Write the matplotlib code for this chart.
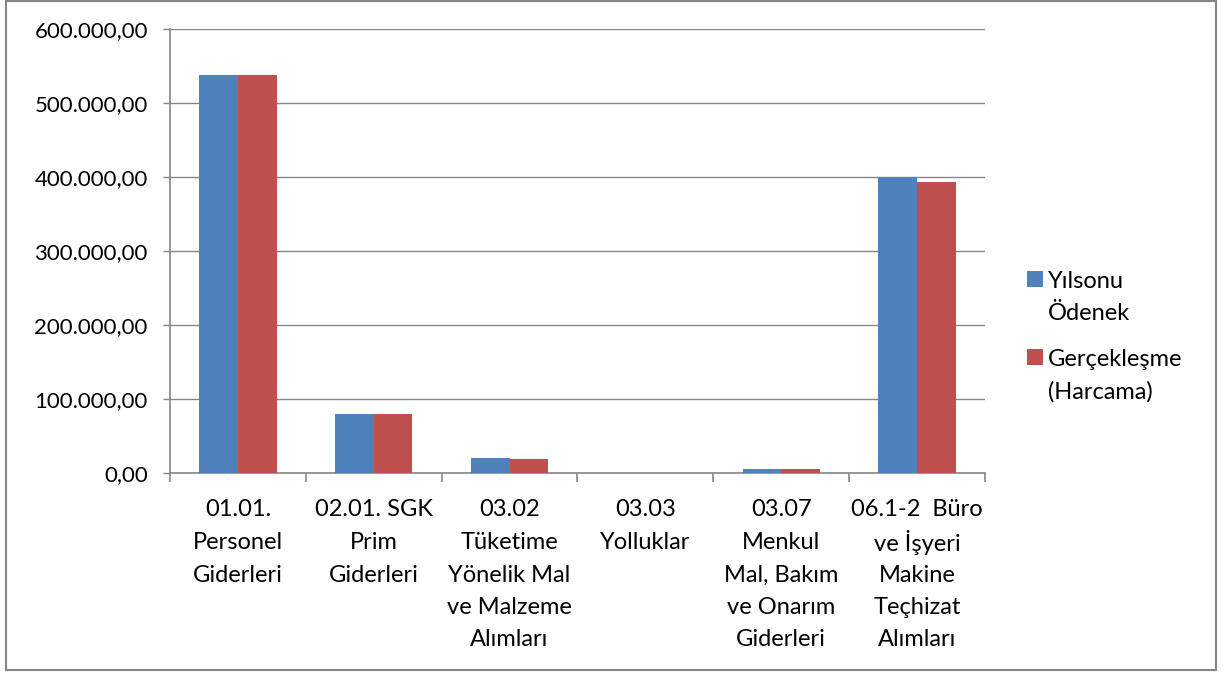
import numpy as np
import matplotlib.pyplot as plt
from matplotlib.patches import Rectangle

categories = ["01.01.\nPersonel\nGiderleri", "02.01. SGK\nPrim\nGiderleri",
              "03.02\nTüketime\nYönelik Mal\nve Malzeme\nAlımları", "03.03\nYolluklar",
              "03.07\nMenkul\nMal, Bakım\nve Onarım\nGiderleri",
              "06.1-2  Büro\nve İşyeri\nMakine\nTeçhizat\nAlımları"]
odenek = [538500, 80000, 20500, 0, 5500, 400000]
harcama = [538500, 80000, 19000, 0, 5000, 393500]
series = ["Yılsonu\nÖdenek", "Gerçekleşme\n(Harcama)"]
colors = ['#4f81bd', '#c0504d']
yticks = [0, 100000, 200000, 300000, 400000, 500000, 600000]
ytick_labels = ["0,00", "100.000,00", "200.000,00", "300.000,00", "400.000,00", "500.000,00", "600.000,00"]

plt.rcParams['font.family'] = ['Lato', 'DejaVu Sans']
fs = 17          # words
fs_num = 16      # y axis numbers
W, H = 1224, 675
fig = plt.figure(figsize=(W / 100, H / 100), dpi=100)
ax = fig.add_axes([170 / W, 1 - 473 / H, 815 / W, 444 / H])

x = np.arange(len(categories))
w = 0.285
for k, vals in enumerate([odenek, harcama]):
    ax.bar(x + (k - 0.5) * w, vals, w, color=colors[k], zorder=3)

ax.set_xlim(-0.5, len(categories) - 0.5)
ax.set_ylim(0, 600000)
ax.set_yticks(yticks)
ax.set_yticklabels(ytick_labels, fontsize=fs_num)
ax.grid(axis='y', color='#868686', linewidth=1, zorder=0)
ax.set_xticks([])
ax.set_xticks(np.arange(-0.5, len(categories)), minor=True)
ax.tick_params(axis='x', which='minor', length=6.5, color='#868686', width=1.2)
ax.tick_params(axis='y', length=5, color='#868686', width=1, pad=11)
for s in ['top', 'right']:
    ax.spines[s].set_visible(False)
for s in ['left', 'bottom']:
    ax.spines[s].set_color('#868686')
    ax.spines[s].set_linewidth(1.2)

# category labels, one text per line so the spacing stays even
line_pt = 32.5 * 0.72
for i, lab in enumerate(categories):
    for j, line in enumerate(lab.split('\n')):
        ax.annotate(line, xy=(i, 0), xycoords=('data', 'axes fraction'),
                    xytext=(0, -35 * 0.72 - j * line_pt), textcoords='offset points',
                    ha='center', va='center_baseline', fontsize=fs)

# legend on the right, square next to the first line of each entry
for k, (lab, col) in enumerate(zip(series, colors)):
    y0 = 279 + k * 78
    fig.patches.append(Rectangle((1027 / W, 1 - (y0 + 8) / H), 16 / W, 16 / H,
                                 transform=fig.transFigure, facecolor=col, edgecolor='none'))
    for j, line in enumerate(lab.split('\n')):
        fig.text(1048 / W, 1 - (y0 + j * 32.5) / H, line, ha='left', va='center_baseline', fontsize=fs)

fig.patches.append(Rectangle((6 / W, 5 / H), 1210 / W, 669 / H, transform=fig.transFigure,
                             fill=False, edgecolor='#868686', linewidth=1.5))
fig.savefig('out.png', dpi=100)
